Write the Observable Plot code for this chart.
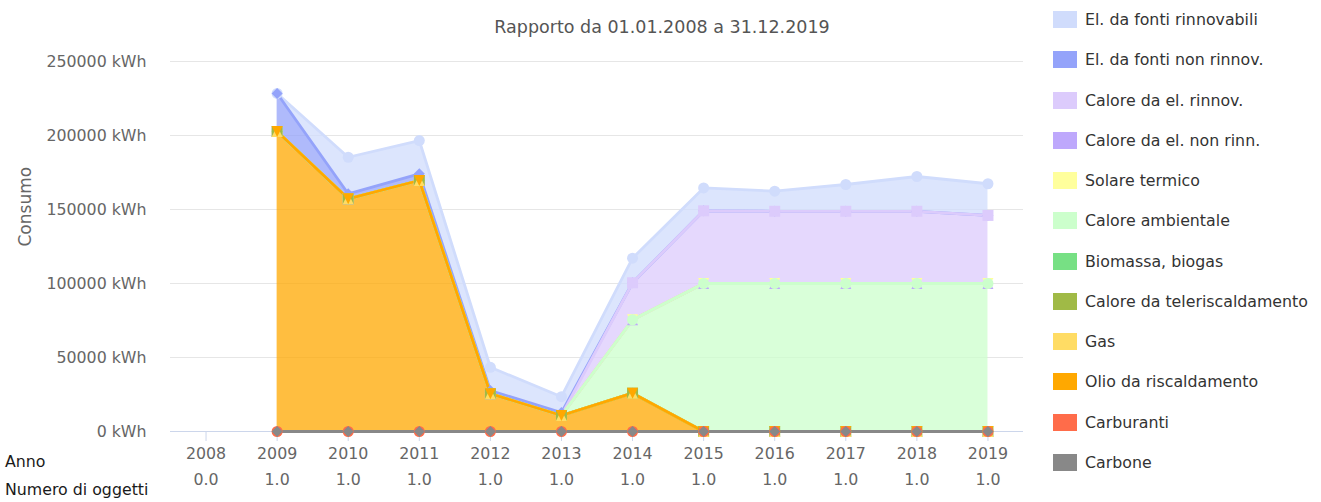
<!DOCTYPE html>
<html>
<head>
<meta charset="utf-8">
<script src="https://cdn.jsdelivr.net/npm/d3@7"></script>
<script src="https://cdn.jsdelivr.net/npm/@observablehq/plot@0.6"></script>
<style>
  body { margin: 0; background: #fff; font-family: "DejaVu Sans", sans-serif; }
  #wrap { position: relative; width: 1321px; height: 502px; overflow: hidden; }
  #chart { position: absolute; left: 0; top: 0; }
  #title { position: absolute; top: 17px; left: 662px; transform: translateX(-50%); font-size: 17.5px; line-height: 20px; color: #555; white-space: nowrap; }
  .lg { position: absolute; left: 1053px; height: 17px; display: flex; align-items: center; white-space: nowrap; font-size: 15.8px; color: #333; }
  .sw { width: 24px; height: 17px; margin-right: 8px; flex: none; }
  .rowlab { position: absolute; left: 5px; font-size: 15.8px; line-height: 18px; color: #1a1a1a; white-space: nowrap; }
</style>
</head>
<body>
<div id="wrap">
  <div id="chart"></div>
  <div id="title"></div>
  <div id="legend"></div>
  <div class="rowlab" id="labAnno" style="top:453px"></div>
  <div class="rowlab" id="labNum" style="top:481px"></div>
</div>
<script>
// ---------- data ----------
const titleText = "Rapporto da 01.01.2008 a 31.12.2019";
const yLabel = "Consumo";
const rowLabels = ["Anno", "Numero di oggetti"];
const years = [2008, 2009, 2010, 2011, 2012, 2013, 2014, 2015, 2016, 2017, 2018, 2019];
const numeroOggetti = [0, 1, 1, 1, 1, 1, 1, 1, 1, 1, 1, 1];
const yTicks = [0, 50000, 100000, 150000, 200000, 250000];

const seriesNames = [
  "El. da fonti rinnovabili",
  "El. da fonti non rinnov.",
  "Calore da el. rinnov.",
  "Calore da el. non rinn.",
  "Solare termico",
  "Calore ambientale",
  "Biomassa, biogas",
  "Calore da teleriscaldamento",
  "Gas",
  "Olio da riscaldamento",
  "Carburanti",
  "Carbone"
];
const seriesColors = [
  "#d0dcfc", "#94a3fa", "#dccbfc", "#bea8fc", "#ffff9c", "#ccffcc",
  "#77e084", "#a0ba46", "#ffdc64", "#ffa800", "#ff6c4a", "#888888"
];

const elRinnovabili     = [null, 0, 24700, 22500, 15700, 10700, 16600, 15500, 13600, 18100, 23500, 21400];
const elNonRinnov       = [null, 25700, 3400, 4500, 2200, 2000, 0, 0, 0, 0, 0, 0];
const caloreElRinnov    = [null, 0, 0, 0, 0, 0, 25000, 49100, 48800, 48800, 48800, 46000];
const caloreElNonRinn   = [null, 0, 0, 0, 0, 0, 0, 0, 0, 0, 0, 0];
const solareTermico     = [null, 0, 0, 0, 0, 0, 0, 0, 0, 0, 0, 0];
const caloreAmbientale  = [null, 0, 0, 0, 0, 0, 49600, 100000, 100000, 100000, 100000, 100000];
const biomassa          = [null, 0, 0, 0, 0, 0, 0, 0, 0, 0, 0, 0];
const teleriscaldamento = [null, 0, 0, 0, 0, 0, 0, 0, 0, 0, 0, 0];
const gas               = [null, 0, 0, 0, 0, 0, 0, 0, 0, 0, 0, 0];
const olio              = [null, 202700, 157200, 169600, 25500, 10800, 25900, 0, 0, 0, 0, 0];
const carburanti        = [null, 0, 0, 0, 0, 0, 0, 0, 0, 0, 0, 0];
const carbone           = [null, 0, 0, 0, 0, 0, 0, 0, 0, 0, 0, 0];

const seriesValues = [
  elRinnovabili, elNonRinnov, caloreElRinnov, caloreElNonRinn, solareTermico, caloreAmbientale,
  biomassa, teleriscaldamento, gas, olio, carburanti, carbone
];

// ---------- tidy table ----------
const rows = [];
seriesNames.forEach((name, i) => {
  years.forEach((yr, j) => {
    const v = seriesValues[i][j];
    if (v != null) rows.push({series: name, year: yr, value: v});
  });
});

// ---------- marker symbols (Highcharts-like cycle) ----------
const mk = f => ({draw(ctx, size) { const r = Math.sqrt(size / Math.PI); f(ctx, r); }});
const symCircle = mk((c, r) => { c.moveTo(r, 0); c.arc(0, 0, r, 0, 2 * Math.PI); c.closePath(); });
const symDiamond = mk((c, r) => { c.moveTo(0, -r); c.lineTo(r, 0); c.lineTo(0, r); c.lineTo(-r, 0); c.closePath(); });
const symSquare = mk((c, r) => { c.moveTo(-r, -r); c.lineTo(r, -r); c.lineTo(r, r); c.lineTo(-r, r); c.closePath(); });
const symTriangle = mk((c, r) => { c.moveTo(0, -r); c.lineTo(r, r); c.lineTo(-r, r); c.closePath(); });
const symTriangleDown = mk((c, r) => { c.moveTo(-r, -r); c.lineTo(r, -r); c.lineTo(0, r); c.closePath(); });
const symbolCycle = [symCircle, symDiamond, symSquare, symTriangle, symTriangleDown];

const stackOrder = seriesNames.slice().reverse(); // bottom first
const stackOpts = {x: "year", y: "value", z: "series", order: stackOrder};

const chart = Plot.plot({
  width: 1321,
  height: 502,
  marginLeft: 170,
  marginRight: 298,
  marginTop: 61,
  marginBottom: 71,
  style: {fontFamily: '"DejaVu Sans", sans-serif', fontSize: "15.8px", color: "#666", background: "transparent"},
  x: {domain: [2007.5, 2019.5]},
  y: {domain: [0, 250000]},
  color: {domain: seriesNames, range: seriesColors},
  symbol: {domain: seriesNames, range: seriesNames.map((_, i) => symbolCycle[i % 5])},
  marks: [
    Plot.gridY(yTicks, {stroke: "#e6e6e6", strokeOpacity: 1}),
    Plot.axisY(yTicks, {tickSize: 0, tickPadding: 24, tickFormat: d => `${d} kWh`, label: null, fill: "#666"}),
    Plot.axisX(years, {tickSize: 10, tickPadding: 6, tickFormat: d => String(d), stroke: "#ccd6eb", fill: "#666", label: null}),
    Plot.ruleY([0], {stroke: "#ccd6eb"}),
    Plot.areaY(rows, Plot.stackY({...stackOpts, fill: "series", fillOpacity: 0.75})),
    Plot.lineY(rows, Plot.stackY2({...stackOpts, stroke: "series", strokeWidth: 2.8})),
    Plot.dot(rows, Plot.stackY2({...stackOpts, fill: "series", symbol: "series", r: 5.5})),
    Plot.text(years, {x: d => d, text: (d, i) => numeroOggetti[i].toFixed(1), frameAnchor: "bottom", dy: 53, fill: "#666"}),
    Plot.text([yLabel], {frameAnchor: "left", rotate: -90, dx: -145, fill: "#666", fontSize: 17})
  ]
});
document.getElementById("chart").appendChild(chart);

document.getElementById("title").textContent = titleText;
document.getElementById("labAnno").textContent = rowLabels[0];
document.getElementById("labNum").textContent = rowLabels[1];

const legend = document.getElementById("legend");
seriesNames.forEach((name, i) => {
  const item = document.createElement("div");
  item.className = "lg";
  item.style.top = (11 + 40.25 * i) + "px";
  const sw = document.createElement("span");
  sw.className = "sw";
  sw.style.background = seriesColors[i];
  const tx = document.createElement("span");
  tx.textContent = name;
  item.appendChild(sw);
  item.appendChild(tx);
  legend.appendChild(item);
});
</script>
</body>
</html>
